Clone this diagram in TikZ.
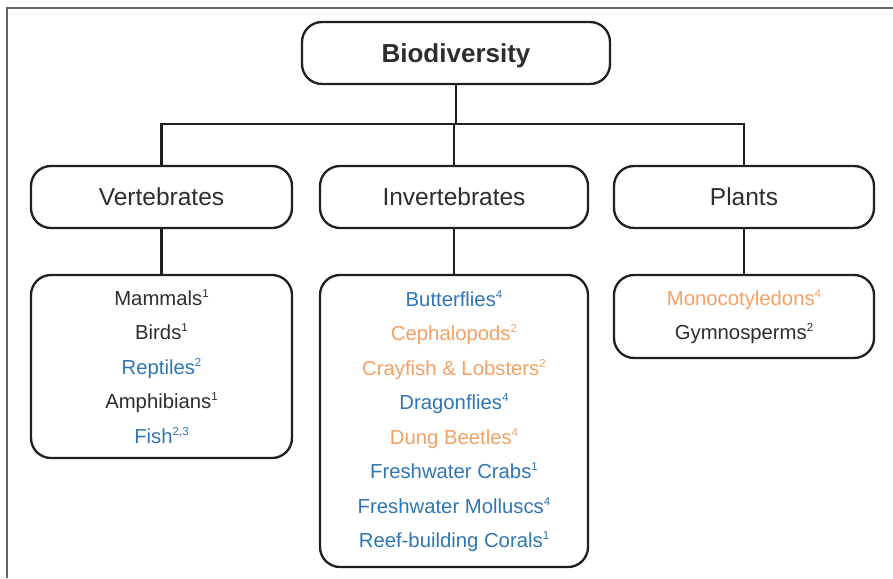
\documentclass[tikz,border=0pt]{standalone}
\usepackage{fontspec}
\setmainfont{Liberation Sans}
\definecolor{bblue}{RGB}{46,117,182}
\definecolor{borange}{RGB}{244,160,100}
\definecolor{tdark}{RGB}{45,45,45}
\definecolor{frame}{RGB}{100,100,100}
\newcommand\nsup[1]{\raisebox{0.75ex}{\fontsize{11.5}{11.5}\selectfont #1}}
\newcommand\bl[1]{\textcolor{bblue}{#1}}
\newcommand\orr[1]{\textcolor{borange}{#1}}
\tikzset{
  box/.style={draw=black!88, line width=2.3pt, rounded corners=20pt, align=center, text=tdark, inner sep=0pt},
  titlebox/.style={box, minimum width=308pt, minimum height=62pt, text height=18.6pt, text depth=0pt, font=\fontsize{26}{26}\selectfont\bfseries},
  headbox/.style={box, minimum height=62pt, text height=17.5pt, text depth=0pt, font=\fontsize{24.5}{24.5}\selectfont},
  listbox/.style={box, font=\fontsize{20.3}{34.5}\selectfont},
  conn/.style={draw=black!88, line width=2.3pt}
}
\begin{document}
\begin{tikzpicture}[x=1pt,y=-1pt]
\useasboundingbox (0,0) rectangle (893,578);
\draw[frame, line width=1.5pt] (7,578) -- (7,8) -- (893,8);
\node[titlebox] (bio) at (456,53) {Biodiversity};
\node[headbox, minimum width=261pt] (vert) at (161.5,197) {Vertebrates};
\node[headbox, minimum width=268pt] (inv) at (454,197) {Invertebrates};
\node[headbox, minimum width=260pt] (plant) at (744,197) {Plants};
\node[listbox, minimum width=261pt, minimum height=183pt] (vlist) at (161.5,366.5)
  {Mammals\nsup{1}\\ Birds\nsup{1}\\ \bl{Reptiles\nsup{2}}\\ Amphibians\nsup{1}\\ \bl{Fish\nsup{2,3}}};
\node[listbox, minimum width=268pt, minimum height=292pt] (ilist) at (454,421)
  {\bl{Butterflies\nsup{4}}\\ \orr{Cephalopods\nsup{2}}\\ \orr{Crayfish \& Lobsters\nsup{2}}\\ \bl{Dragonflies\nsup{4}}\\ \orr{Dung Beetles\nsup{4}}\\ \bl{Freshwater Crabs\nsup{1}}\\ \bl{Freshwater Molluscs\nsup{4}}\\ \bl{Reef-building Corals\nsup{1}}};
\node[listbox, minimum width=260pt, minimum height=83pt] (plist) at (744,316.5)
  {\orr{Monocotyledons\nsup{4}}\\ Gymnosperms\nsup{2}};
\coordinate (bus) at (0,124);
\draw[conn] (bio.south) -- (bio.south |- bus);
\draw[conn] (vert.north) -- (vert.north |- bus) -- (plant.north |- bus) -- (plant.north);
\draw[conn] (inv.north) -- (inv.north |- bus);
\draw[conn] (vert.south) -- (vlist.north);
\draw[conn] (inv.south) -- (ilist.north);
\draw[conn] (plant.south) -- (plist.north);
\end{tikzpicture}
\end{document}
